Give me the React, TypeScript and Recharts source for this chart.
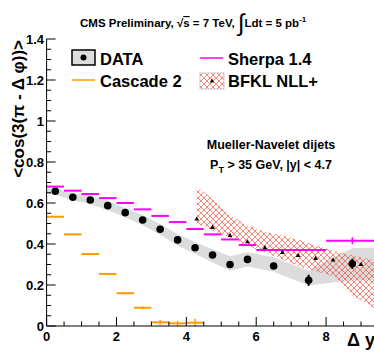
import React from "react";
import {
  ComposedChart,
  XAxis,
  YAxis,
  Area,
  Scatter,
  ErrorBar,
} from "recharts";

// ---------- data ----------
const dataX = [0.25, 0.75, 1.25, 1.75, 2.25, 2.75, 3.25, 3.75, 4.25, 4.75, 5.25, 5.75, 6.5, 7.5, 8.75];
const dataY = [0.657, 0.628, 0.615, 0.587, 0.553, 0.517, 0.472, 0.42, 0.382, 0.346, 0.3, 0.325, 0.293, 0.223, 0.304];
const dataErr = [0.004, 0.004, 0.004, 0.005, 0.005, 0.006, 0.006, 0.007, 0.008, 0.009, 0.01, 0.012, 0.015, 0.027, 0.025];

const sysX = [0, 0.25, 0.75, 1.25, 1.75, 2.25, 2.75, 3.25, 3.75, 4.25, 4.75, 5.25, 5.75, 6.5, 7.5, 8.75, 9.4];
const sysLow = [0.645, 0.64, 0.612, 0.595, 0.565, 0.53, 0.492, 0.445, 0.393, 0.352, 0.31, 0.27, 0.29, 0.265, 0.198, 0.225, 0.225];
const sysHigh = [0.668, 0.674, 0.648, 0.637, 0.61, 0.576, 0.542, 0.497, 0.447, 0.41, 0.375, 0.34, 0.36, 0.335, 0.27, 0.38, 0.38];

const sherpaX = [0.25, 0.75, 1.25, 1.75, 2.25, 2.75, 3.25, 3.75, 4.25, 4.75, 5.25, 5.75, 6.5, 7.5, 8.75];
const sherpaY = [0.68, 0.66, 0.644, 0.624, 0.6, 0.569, 0.537, 0.507, 0.473, 0.447, 0.422, 0.395, 0.371, 0.371, 0.416];
const sherpaHalfBin = [0.25, 0.25, 0.25, 0.25, 0.25, 0.25, 0.25, 0.25, 0.25, 0.25, 0.25, 0.25, 0.5, 0.5, 0.75];
const sherpaErr = [0.002, 0.002, 0.002, 0.002, 0.002, 0.002, 0.002, 0.002, 0.003, 0.003, 0.003, 0.003, 0.003, 0.003, 0.017];

const cascX = [0.25, 0.75, 1.25, 1.75, 2.25, 2.75, 3.25, 3.75, 4.25];
const cascY = [0.533, 0.447, 0.351, 0.254, 0.16, 0.089, 0.018, 0.013, 0.016];
const cascErr = [0.002, 0.002, 0.003, 0.004, 0.005, 0.007, 0.012, 0.013, 0.019];

const bfklX = [4.3, 4.75, 5.25, 5.75, 6.25, 6.75, 7.2, 7.7, 8.2, 9.0];
const bfklY = [0.522, 0.481, 0.442, 0.411, 0.382, 0.359, 0.345, 0.33, 0.322, 0.301];

const bfklBandX = [4.3, 4.75, 5.25, 5.75, 6.25, 6.75, 7.25, 7.75, 8.25, 8.75, 9.4];
const bfklLow = [0.5, 0.465, 0.43, 0.39, 0.36, 0.325, 0.29, 0.265, 0.24, 0.15, 0.085];
const bfklHigh = [0.68, 0.62, 0.54, 0.49, 0.46, 0.44, 0.42, 0.39, 0.365, 0.345, 0.32];

// ---------- ticks ----------
const xTicks = [0, 0.5, 1, 1.5, 2, 2.5, 3, 3.5, 4, 4.5, 5, 5.5, 6, 6.5, 7, 7.5, 8, 8.5, 9];
const xMajorTicks = [0, 2, 4, 6, 8];
const xMajorLabels = ["0", "2", "4", "6", "8"];
const yTicks = [
  0, 0.05, 0.1, 0.15, 0.2, 0.25, 0.3, 0.35, 0.4, 0.45, 0.5, 0.55, 0.6, 0.65, 0.7,
  0.75, 0.8, 0.85, 0.9, 0.95, 1, 1.05, 1.1, 1.15, 1.2, 1.25, 1.3, 1.35, 1.4,
];
const yMajorTicks = [0, 0.2, 0.4, 0.6, 0.8, 1, 1.2, 1.4];
const yMajorLabels = ["0", "0.2", "0.4", "0.6", "0.8", "1", "1.2", "1.4"];

const X_DOMAIN: [number, number] = [0, 9.4];
const Y_DOMAIN: [number, number] = [0, 1.4];

// ---------- derived tables ----------
const dataPts = dataX.map((x, i) => ({ x, y: dataY[i], err: dataErr[i] }));
const sysPts = sysX.map((x, i) => ({ x, band: [sysLow[i], sysHigh[i]] }));
const sherpaPts = sherpaX.map((x, i) => ({ x, y: sherpaY[i], xerr: sherpaHalfBin[i], err: sherpaErr[i] }));
const cascPts = cascX.map((x, i) => ({ x, y: cascY[i], xerr: 0.25, err: cascErr[i] }));
const bfklPts = bfklX.map((x, i) => ({ x, y: bfklY[i] }));
const bfklBandPts = bfklBandX.map((x, i) => ({ x, band: [bfklLow[i], bfklHigh[i]] }));

const FONT = "'Liberation Sans', Arial, Helvetica, sans-serif";
const MAGENTA = "#ff00ff";
const ORANGE = "#ff9900";
const HATCH = "#f2543f";

const idx = (arr: number[], v: number) => arr.findIndex((a) => Math.abs(a - v) < 1e-9);

const BottomTick = (p: any) => {
  const { x, y, payload } = p;
  const i = idx(xMajorTicks, payload.value);
  const major = i >= 0;
  return (
    <g>
      <line x1={x} x2={x} y1={y} y2={y - (major ? 9 : 4.5)} stroke="#000" strokeWidth={1} />
      {major && (
        <text x={x} y={y + 15} textAnchor="middle" fontSize={13} fontWeight="bold" fontFamily={FONT} fill="#000">
          {xMajorLabels[i]}
        </text>
      )}
    </g>
  );
};

const TopTick = (p: any) => {
  const { x, y, payload } = p;
  const major = idx(xMajorTicks, payload.value) >= 0;
  return <line x1={x} x2={x} y1={y} y2={y + (major ? 9 : 4.5)} stroke="#000" strokeWidth={1} />;
};

const LeftTick = (p: any) => {
  const { x, y, payload } = p;
  const i = idx(yMajorTicks, payload.value);
  const major = i >= 0;
  return (
    <g>
      <line x1={x} x2={x + (major ? 9 : 4.5)} y1={y} y2={y} stroke="#000" strokeWidth={1} />
      {major && (
        <text x={x - 2.5} y={y} dy="0.35em" textAnchor="end" fontSize={13} fontWeight="bold" fontFamily={FONT} fill="#000">
          {yMajorLabels[i]}
        </text>
      )}
    </g>
  );
};

const RightTick = (p: any) => {
  const { x, y, payload } = p;
  const major = idx(yMajorTicks, payload.value) >= 0;
  return <line x1={x} x2={x - (major ? 9 : 4.5)} y1={y} y2={y} stroke="#000" strokeWidth={1} />;
};

const Empty = () => <g />;
const Dot = (p: any) => <circle cx={p.cx} cy={p.cy} r={3.8} fill="#000" />;
const Tri = (p: any) => (
  <path d={`M${p.cx},${p.cy - 2.6} L${p.cx + 2.4},${p.cy + 1.6} L${p.cx - 2.4},${p.cy + 1.6} Z`} fill="#000" />
);

const HatchPattern = ({ id }: { id: string }) => (
  <pattern id={id} patternUnits="userSpaceOnUse" width={6} height={6}>
    <path d="M0,0 L6,6 M6,0 L0,6" stroke={HATCH} strokeWidth={0.7} />
  </pattern>
);

export default function App() {
  return (
    <div style={{ position: "absolute", left: 0, top: 0, width: 374, height: 353, overflow: "hidden", background: "#fff" }}>
      <ComposedChart width={380} height={353} margin={{ top: 39, right: 5, bottom: 0, left: 0 }}>
        <defs>
          <HatchPattern id="hatchBand" />
        </defs>
        <XAxis
          xAxisId="b"
          dataKey="x"
          type="number"
          orientation="bottom"
          domain={X_DOMAIN}
          allowDataOverflow
          ticks={xTicks}
          interval={0}
          height={27}
          tickSize={0}
          tickMargin={0}
          tickLine={false}
          axisLine={{ stroke: "#000", strokeWidth: 1 }}
          tick={<BottomTick />}
        />
        <XAxis
          xAxisId="t"
          dataKey="x"
          type="number"
          orientation="top"
          domain={X_DOMAIN}
          allowDataOverflow
          ticks={xTicks}
          interval={0}
          height={0}
          tickSize={0}
          tickMargin={0}
          tickLine={false}
          axisLine={{ stroke: "#000", strokeWidth: 1 }}
          tick={<TopTick />}
        />
        <YAxis
          yAxisId="l"
          type="number"
          orientation="left"
          domain={Y_DOMAIN}
          allowDataOverflow
          ticks={yTicks}
          interval={0}
          width={46.6}
          tickSize={0}
          tickMargin={0}
          tickLine={false}
          axisLine={{ stroke: "#000", strokeWidth: 1 }}
          tick={<LeftTick />}
        />
        <YAxis
          yAxisId="r"
          type="number"
          orientation="right"
          domain={Y_DOMAIN}
          allowDataOverflow
          ticks={yTicks}
          interval={0}
          width={0}
          tickSize={0}
          tickMargin={0}
          tickLine={false}
          axisLine={{ stroke: "#000", strokeWidth: 1 }}
          tick={<RightTick />}
        />

        <Area
          xAxisId="b"
          yAxisId="l"
          data={sysPts}
          dataKey="band"
          type="linear"
          stroke="none"
          fill="#dcdcdc"
          fillOpacity={1}
          isAnimationActive={false}
        />
        <Area
          xAxisId="b"
          yAxisId="l"
          data={bfklBandPts}
          dataKey="band"
          type="linear"
          stroke="none"
          fill="url(#hatchBand)"
          fillOpacity={1}
          isAnimationActive={false}
        />
        <Scatter xAxisId="b" yAxisId="l" data={cascPts} dataKey="y" shape={<Empty />} isAnimationActive={false}>
          <ErrorBar dataKey="xerr" direction="x" width={0} stroke={ORANGE} strokeWidth={2} />
          <ErrorBar dataKey="err" direction="y" width={0} stroke={ORANGE} strokeWidth={1.5} />
        </Scatter>
        <Scatter xAxisId="b" yAxisId="l" data={sherpaPts} dataKey="y" shape={<Empty />} isAnimationActive={false}>
          <ErrorBar dataKey="xerr" direction="x" width={0} stroke={MAGENTA} strokeWidth={2} />
          <ErrorBar dataKey="err" direction="y" width={0} stroke={MAGENTA} strokeWidth={1.5} />
        </Scatter>
        <Scatter xAxisId="b" yAxisId="l" data={bfklPts} dataKey="y" shape={<Tri />} isAnimationActive={false} />
        <Scatter xAxisId="b" yAxisId="l" data={dataPts} dataKey="y" shape={<Dot />} isAnimationActive={false}>
          <ErrorBar dataKey="err" direction="y" width={0} stroke="#000" strokeWidth={2} />
        </Scatter>
      </ComposedChart>

      <svg
        width={374}
        height={353}
        style={{ position: "absolute", left: 0, top: 0, pointerEvents: "none" }}
        fontFamily={FONT}
      >
        <defs>
          <HatchPattern id="hatchLegend" />
        </defs>
        {/* title */}
        <text x={80} y={27} fontSize={11.5} fontWeight="bold" fill="#000">
          CMS Preliminary, √<tspan textDecoration="overline">s</tspan> = 7 TeV,{" "}
          <tspan fontSize={24} fontWeight="normal" dy={4}>∫</tspan>
          <tspan dy={-4}>Ldt = 5 pb</tspan>
          <tspan fontSize={8} dy={-5}>-1</tspan>
        </text>

        {/* legend */}
        <rect x={72} y={50} width={23} height={15} fill="#dcdcdc" stroke="#000" strokeWidth={1.5} />
        <circle cx={83.5} cy={57.5} r={3} fill="#000" />
        <text x={100} y={65} fontSize={16.5} fontWeight="bold" fill="#000">DATA</text>

        <line x1={72} x2={95} y1={80} y2={80} stroke={ORANGE} strokeWidth={1.5} />
        <text x={100} y={87} fontSize={16.5} fontWeight="bold" fill="#000">Cascade 2</text>

        <line x1={200} x2={223} y1={58} y2={58} stroke={MAGENTA} strokeWidth={1.5} />
        <text x={228} y={65} fontSize={16.5} fontWeight="bold" fill="#000">Sherpa 1.4</text>

        <rect x={200} y={73} width={24} height={16} fill="url(#hatchLegend)" stroke="#bbb" strokeWidth={0.8} />
        <path d="M212,78.5 L214.2,82.5 L209.8,82.5 Z" fill="#000" />
        <text x={228} y={87} fontSize={16.5} fontWeight="bold" fill="#000">BFKL NLL+</text>

        {/* annotation */}
        <text x={271} y={149} textAnchor="middle" fontSize={12.5} fontWeight="bold" fill="#000">
          Mueller-Navelet dijets
        </text>
        <text x={271} y={169} textAnchor="middle" fontSize={12.5} fontWeight="bold" fill="#000">
          P<tspan fontSize={9} dy={4}>T</tspan>
          <tspan dy={-4}> &gt; 35 GeV, |y| &lt; 4.7</tspan>
        </text>

        {/* axis titles */}
        <text
          x={24}
          y={40}
          transform="rotate(-90 24 40)"
          textAnchor="end"
          fontSize={17}
          fontWeight="bold"
          fill="#000"
        >
          {"<cos(3(π - Δ φ))>"}
        </text>
        <text x={347} y={346} fontSize={18} fontWeight="bold" fill="#000">
          Δ y
        </text>
      </svg>
    </div>
  );
}
